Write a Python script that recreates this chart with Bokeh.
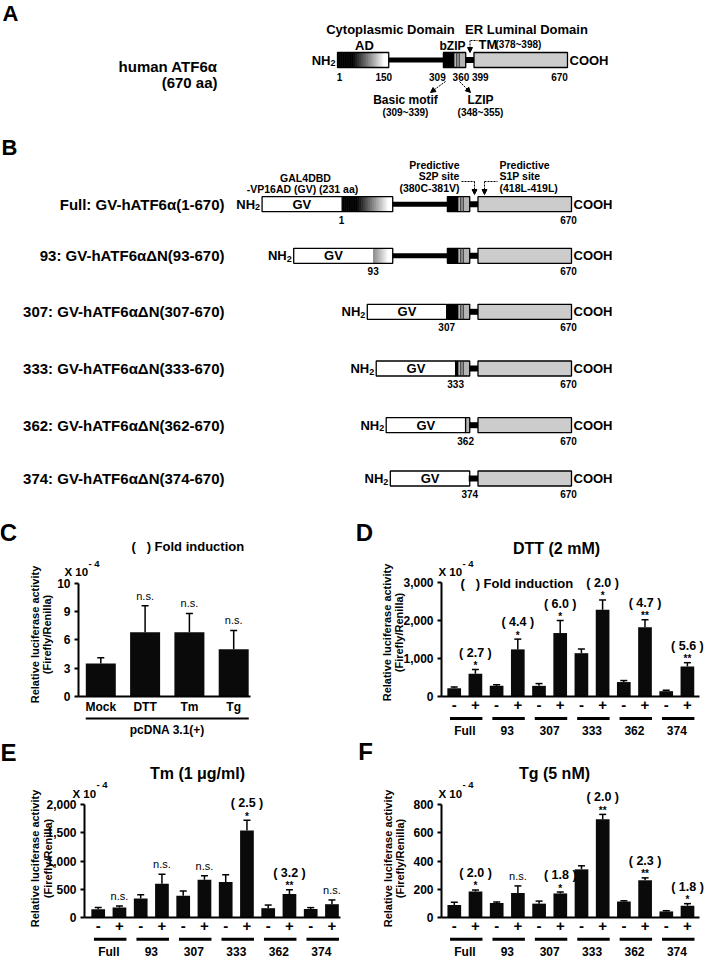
import numpy as np
from bokeh.plotting import figure
from bokeh.models import Range1d, LinearAxis, FixedTicker, Arrow, NormalHead
from bokeh.layouts import column, row
from bokeh.embed import file_html
from bokeh.resources import INLINE
from bokeh.core.properties import value

# ---------------- data ----------------
# Panel A: human ATF6alpha domain map (amino-acid positions)
PROTEIN_LEN = 670
AD_DOMAIN = (1, 150)
AD_FADE = (45, 137)
BASIC_MOTIF = (309, 339)
BZIP_REST = (339, 374)
LZIP_MARKS = [348, 355]
TM_DOMAIN = (374, 398)
LUMINAL_DOMAIN = (398, 670)
A_POSITIONS = [1, 150, 309, 360, 399, 670]
A_POSITION_LABELS = ["1", "150", "309", "360", "399", "670"]
GV_LENGTH = 231

# Panel B: constructs
construct_starts = [1, 93, 307, 333, 362, 374]
construct_names = ["Full: GV-hATF6α(1-670)", "93: GV-hATF6αΔN(93-670)",
                   "307: GV-hATF6αΔN(307-670)", "333: GV-hATF6αΔN(333-670)",
                   "362: GV-hATF6αΔN(362-670)", "374: GV-hATF6αΔN(374-670)"]

# Panel C
c_categories = ["Mock", "DTT", "Tm", "Tg"]
c_values = [3.5, 6.8, 6.8, 5.0]
c_errors = [0.6, 2.8, 2.0, 2.0]
c_signif = ["", "n.s.", "n.s.", "n.s."]
c_ticks = [0, 3, 6, 9, 12]
c_tick_labels = ["0", "3", "6", "9", "10"]

groups = ["Full", "93", "307", "333", "362", "374"]
treatment = ["-", "+"] * 6

# Panel D  DTT (2 mM)
d_values = [220, 600, 280, 1240, 280, 1670, 1140, 2280, 380, 1820, 140, 790]
d_errors = [30, 110, 30, 270, 60, 330, 110, 260, 40, 200, 25, 100]
d_fold = ["", "( 2.7 )", "", "( 4.4 )", "", "( 6.0 )", "", "( 2.0 )", "", "( 4.7 )", "", "( 5.6 )"]
d_signif = ["", "*", "", "*", "", "*", "", "*", "", "**", "", "**"]
d_ticks = [0, 1000, 2000, 3000]
d_tick_labels = ["0", "1,000", "2,000", "3,000"]

# Panel E  Tm (1 ug/ml)
e_values = [150, 180, 340, 600, 390, 670, 630, 1540, 170, 420, 155, 240]
e_errors = [30, 30, 65, 170, 85, 70, 130, 180, 55, 75, 25, 75]
e_fold = ["", "", "", "", "", "", "", "( 2.5 )", "", "( 3.2 )", "", ""]
e_signif = ["", "n.s.", "", "n.s.", "", "n.s.", "", "*", "", "**", "", "n.s."]
e_ticks = [0, 500, 1000, 1500, 2000]
e_tick_labels = ["0", "500", "1,000", "1,500", "2,000"]

# Panel F  Tg (5 nM)
f_values = [90, 185, 105, 175, 100, 172, 342, 695, 115, 265, 45, 85]
f_errors = [20, 12, 6, 50, 18, 10, 25, 35, 5, 17, 5, 15]
f_fold = ["", "( 2.0 )", "", "", "", "( 1.8 )", "", "( 2.0 )", "", "( 2.3 )", "", "( 1.8 )"]
f_signif = ["", "*", "", "n.s.", "", "*", "", "**", "", "**", "", "*"]
f_ticks = [0, 200, 400, 600, 800]
f_tick_labels = ["0", "200", "400", "600", "800"]

FOLD_TITLE = "(\u00a0\u00a0\u00a0) Fold induction"

# ---------------- helpers ----------------
FONT = "Liberation Sans"


def T(p, x, y, s, size, align="center", base="middle", style="bold", angle=0.0):
    p.text(x=[x], y=[y], text=[s], text_font=value(FONT), text_font_size=f"{size}px",
           text_font_style=style, text_align=align, text_baseline=base,
           angle=angle, text_color="black")


# ---------------- top figure: panels A and B ----------------
top = figure(width=704, height=507, x_range=Range1d(8, 712), y_range=Range1d(515, 8),
             x_axis_type=None, y_axis_type=None, output_backend="svg",
             toolbar_location=None, min_border=0)
top.outline_line_color = None

SCALE = 230.0 / (PROTEIN_LEN - 1)
BOX_H = 15


def pxA(aa):
    return 345 + (aa - 1) * SCALE


def pxB(aa):
    return 349 + (aa - 1) * SCALE


def ad_color(aa):
    t = min(max((aa - AD_FADE[0]) / (AD_FADE[1] - AD_FADE[0]), 0.0), 1.0)
    g = int(round(255 * t))
    return "#%02x%02x%02x" % (g, g, g)


def draw_map(p, px, yc, start, gv):
    yt, yb = yc - BOX_H / 2, yc + BOX_H / 2
    gv_left = px(start) - (GV_LENGTH * SCALE if gv else 0)
    box_right = px(AD_DOMAIN[1]) if start < AD_DOMAIN[1] else px(start)
    if gv:
        p.quad(left=[gv_left], right=[px(start)], top=[yt], bottom=[yb],
               fill_color="white", line_color=None)
        T(p, (gv_left + px(start)) / 2, yc, "GV", 13)
    if start < AD_DOMAIN[1]:
        edges = np.linspace(start, AD_DOMAIN[1], int((AD_DOMAIN[1] - start) / 2) + 2)
        lefts = [px(a) for a in edges[:-1]]
        rights = [px(b) + 0.5 for b in edges[1:]]
        cols = [ad_color((a + b) / 2) for a, b in zip(edges[:-1], edges[1:])]
        p.quad(left=lefts, right=rights, top=yt, bottom=yb, fill_color=cols, line_color=None)
    p.quad(left=[gv_left], right=[box_right], top=[yt], bottom=[yb],
           fill_color=None, line_color="black", line_width=1.3)
    if start < BASIC_MOTIF[0]:
        p.quad(left=[px(max(start, AD_DOMAIN[1]))], right=[px(BASIC_MOTIF[0])],
               top=[yc - 2.5], bottom=[yc + 2.5], fill_color="black", line_color=None)
    # TM connector
    p.quad(left=[px(max(start, TM_DOMAIN[0])) - 1], right=[px(TM_DOMAIN[1]) + 1],
           top=[yc - 3], bottom=[yc + 3], fill_color="black", line_color=None)
    if start < BASIC_MOTIF[1]:
        p.quad(left=[px(max(start, BASIC_MOTIF[0]))], right=[px(BASIC_MOTIF[1])],
               top=[yt], bottom=[yb], fill_color="black", line_color="black", line_width=1.3)
    if start < BZIP_REST[1]:
        p.quad(left=[px(max(start, BZIP_REST[0]))], right=[px(BZIP_REST[1])],
               top=[yt], bottom=[yb], fill_color="#b4b4b4", line_color="black", line_width=1.3)
        for m in LZIP_MARKS:
            if m > start:
                p.segment(x0=[px(m)], y0=[yt], x1=[px(m)], y1=[yb], line_color="#222222", line_width=1)
    p.quad(left=[px(LUMINAL_DOMAIN[0])], right=[px(LUMINAL_DOMAIN[1])], top=[yt], bottom=[yb],
           fill_color="#cccccc", line_color="black", line_width=1.3)
    # NH2 / COOH
    T(p, gv_left - 7, yc, "NH", 13, align="right")
    T(p, gv_left - 7, yc + 3, "2", 9, align="left")
    T(p, px(PROTEIN_LEN) + 2, yc, "COOH", 13, align="left")


# Panel A
T(top, 18, 21, "A", 22)
T(top, 225, 74, "human ATF6α", 15, align="right")
T(top, 225, 90, "(670 aa)", 15, align="right")
T(top, 398, 37, "Cytoplasmic Domain", 13)
T(top, 534, 37, "ER Luminal Domain", 13)
T(top, 372, 53, "AD", 13)
T(top, 460, 53, "bZIP", 12)
T(top, 486, 52, "TM", 13, align="left")
T(top, 503, 52, "(378~398)", 10, align="left")
yA = 67.5
draw_map(top, pxA, yA, 1, False)
a_offsets = [2, -5, -6, 0, 6, -8]
for pos, lab, off in zip(A_POSITIONS, A_POSITION_LABELS, a_offsets):
    T(top, pxA(pos) + off, 84.5, lab, 10)
top.segment(x0=[477.5], y0=[48], x1=[477.5], y1=[56], line_dash="2 1", line_color="black", line_width=1)
top.segment(x0=[478], y0=[48], x1=[485], y1=[48], line_dash="2 1", line_color="black", line_width=1)
top.add_layout(Arrow(end=NormalHead(size=5, fill_color="black", line_color="black"),
                     x_start=477.5, y_start=55, x_end=477.5, y_end=60, line_width=1))
top.add_layout(Arrow(end=NormalHead(size=5, fill_color="black", line_color="black"),
                     x_start=453, y_start=89, x_end=438, y_end=100, line_width=1, line_dash="2 1"))
top.add_layout(Arrow(end=NormalHead(size=5, fill_color="black", line_color="black"),
                     x_start=467, y_start=89, x_end=478, y_end=100, line_width=1, line_dash="2 1"))
T(top, 413, 107, "Basic motif", 12)
T(top, 488, 107, "LZIP", 12)
T(top, 413, 120, "(309~339)", 10)
T(top, 488, 120, "(348~355)", 10)

# Panel B
T(top, 17, 155, "B", 22)
T(top, 313, 185, "GAL4DBD", 10.5)
T(top, 310, 196, "-VP16AD (GV) (231 aa)", 10.5)
T(top, 467, 172, "Predictive", 10.5, align="right")
T(top, 467, 183, "S2P site", 10.5, align="right")
T(top, 467, 195, "(380C-381V)", 10.5, align="right")
T(top, 507, 172, "Predictive", 10.5, align="left")
T(top, 507, 183, "S1P site", 10.5, align="left")
T(top, 507, 195, "(418L-419L)", 10.5, align="left")
top.segment(x0=[469, 482], y0=[189, 189], x1=[482, 482], y1=[189, 198],
            line_dash="2 1", line_color="black", line_width=1)
top.segment(x0=[492, 492], y0=[189, 189], x1=[505, 492], y1=[189, 198],
            line_dash="2 1", line_color="black", line_width=1)
for xa in (482, 492):
    top.add_layout(Arrow(end=NormalHead(size=5, fill_color="black", line_color="black"),
                         x_start=xa, y_start=197, x_end=xa, y_end=202, line_width=1))

row_y = [211.7, 263.3, 319.3, 376.0, 432.7, 486.0]
for s, name, yc in zip(construct_starts, construct_names, row_y):
    T(top, 232, yc, name, 15, align="right")
    draw_map(top, pxB, yc, s, True)
    T(top, pxB(s), yc + 15.5, str(s), 10)
    T(top, pxB(PROTEIN_LEN) - 3, yc + 15.5, "670", 10)


# ---------------- bar charts ----------------
def bar_chart(fx0, fy0, fw, fh, xa, xstep, y0px, ppu, ax_px, ax_end_px, ticks, tick_labels,
              vals, errs, xlabels, xlabel_size, bar_w):
    X = lambda rx: (rx - xa) / xstep
    Y = lambda ry: (y0px - ry) / ppu
    p = figure(width=fw, height=fh, x_range=Range1d(X(fx0), X(fx0 + fw)),
               y_range=Range1d(Y(fy0 + fh), Y(fy0)), x_axis_type=None, y_axis_type=None,
               output_backend="svg", toolbar_location=None, min_border=0)
    p.outline_line_color = None
    xs = np.arange(len(vals))
    v = np.array(vals, float)
    e = np.array(errs, float)
    tops = v + e
    cap = 3.5 / xstep
    p.segment(x0=xs, y0=v, x1=xs, y1=tops, line_color="black", line_width=1.5)
    p.segment(x0=xs - cap, y0=tops, x1=xs + cap, y1=tops, line_color="black", line_width=1.5)
    p.vbar(x=xs, top=v, width=bar_w, bottom=0, fill_color="#0a0a0a", line_color=None)

    yax = LinearAxis(ticker=FixedTicker(ticks=ticks), bounds=(0, ticks[-1]), fixed_location=X(ax_px))
    yax.major_label_overrides = {t: l for t, l in zip(ticks, tick_labels)}
    xax = LinearAxis(ticker=FixedTicker(ticks=[int(i) for i in xs]),
                     bounds=(X(ax_px), X(ax_end_px)), fixed_location=0)
    xax.major_label_overrides = {int(i): l for i, l in enumerate(xlabels)}
    for ax in (yax, xax):
        ax.axis_line_width = 2
        ax.axis_line_color = "black"
        ax.major_label_text_font = FONT
        ax.major_label_text_font_style = "bold"
        ax.major_label_text_color = "black"
        ax.minor_tick_line_color = None
    yax.major_tick_out = 4
    yax.major_tick_in = 0
    yax.major_tick_line_width = 2
    yax.major_label_text_font_size = "12px"
    yax.major_label_standoff = 4
    xax.major_tick_line_color = None
    xax.major_tick_out = 0
    xax.major_tick_in = 0
    xax.major_label_standoff = 3
    xax.major_label_text_font_size = xlabel_size
    p.add_layout(yax, "left")
    p.add_layout(xax, "below")
    return p, X, Y, xs, tops, ppu


def annotate(p, xs, tops, ppu, signif, fold):
    for i in range(len(xs)):
        if signif[i] == "n.s.":
            T(p, xs[i], tops[i] + 10 / ppu, "n.s.", 11, style="normal")
        elif signif[i]:
            T(p, xs[i], tops[i] + 4 / ppu, signif[i], 10)
        if fold and fold[i]:
            T(p, xs[i], tops[i] + 17 / ppu, fold[i], 12.5)


def groups_below(p, X, Y, line_y, label_y):
    gx = np.arange(len(groups)) * 2
    p.segment(x0=gx - 0.2, y0=Y(line_y), x1=gx + 1.33, y1=Y(line_y), line_color="black", line_width=3)
    p.text(x=gx + 0.5, y=Y(label_y), text=groups, text_font=value(FONT), text_font_size="12px",
           text_font_style="bold", text_align="center", text_baseline="middle", text_color="black")


def y_title(p, X, Y, x1, x2, yc):
    T(p, X(x1), Y(yc), "Relative luciferase activity", 11, angle=np.pi / 2)
    T(p, X(x2), Y(yc), "(Firefly/Renilla)", 11, angle=np.pi / 2)


def x10(p, X, Y, xl, yc):
    T(p, X(xl), Y(yc), "X 10", 11.5, align="left")
    T(p, X(xl + 24), Y(yc - 9), "- 4", 9.5, align="left")


# Panel C
pc, X, Y, xs, tops, ppu = bar_chart(8, 515, 352, 232, 108.3, 44.3, 704, 28.33 / 3, 86, 258,
                                    c_ticks, c_tick_labels, c_values, c_errors,
                                    c_categories, "12px", 0.677)
annotate(pc, xs, tops, ppu, c_signif, None)
pc.segment(x0=[xs[0] - 0.34], y0=[Y(726)], x1=[xs[-1] + 0.34], y1=[Y(726)], line_color="black", line_width=2)
T(pc, (xs[0] + xs[-1]) / 2, Y(737), "pcDNA 3.1(+)", 12)
T(pc, X(16), Y(540), "C", 24)
T(pc, X(139), Y(554), FOLD_TITLE, 13, align="left")
x10(pc, X, Y, 72, 579.5)
y_title(pc, X, Y, 42.5, 54, 642)

# Panel D
pd, X, Y, xs, tops, ppu = bar_chart(360, 515, 352, 232, 461.7, 21.2, 704, 38.0 / 1000, 449, 707,
                                    d_ticks, d_tick_labels, d_values, d_errors,
                                    treatment, "15px", 0.646)
annotate(pd, xs, tops, ppu, d_signif, d_fold)
groups_below(pd, X, Y, 726, 738)
T(pd, X(372), Y(540), "D", 24)
T(pd, X(564), Y(556), "DTT (2 mM)", 16)
T(pd, X(468), Y(591), FOLD_TITLE, 13, align="left")
x10(pd, X, Y, 446, 579.5)
y_title(pd, X, Y, 394, 406, 640)

# Panel E
pe, X, Y, xs, tops, ppu = bar_chart(8, 747, 352, 219, 105.7, 21.25, 925.3, 28.33 / 500, 92, 348,
                                    e_ticks, e_tick_labels, e_values, e_errors,
                                    treatment, "15px", 0.646)
annotate(pe, xs, tops, ppu, e_signif, e_fold)
groups_below(pe, X, Y, 946.7, 959)
T(pe, X(16), Y(760), "E", 24)
T(pe, X(205), Y(781), "Tm (1 μg/ml)", 16)
x10(pe, X, Y, 80, 801)
y_title(pe, X, Y, 42, 55, 866)

# Panel F
pf, X, Y, xs, tops, ppu = bar_chart(360, 747, 352, 219, 461.8, 21.2, 925.3, 28.33 / 200, 449, 707,
                                    f_ticks, f_tick_labels, f_values, f_errors,
                                    treatment, "15px", 0.646)
annotate(pf, xs, tops, ppu, f_signif, f_fold)
groups_below(pf, X, Y, 946.7, 959)
T(pf, X(373), Y(759), "F", 24)
T(pf, X(562), Y(781), "Tg (5 nM)", 16)
x10(pf, X, Y, 446, 801)
y_title(pf, X, Y, 395, 407, 866)

layout = column(top, row(pc, pd, spacing=0), row(pe, pf, spacing=0), spacing=0)
open("out.html", "w").write(file_html(layout, INLINE))
